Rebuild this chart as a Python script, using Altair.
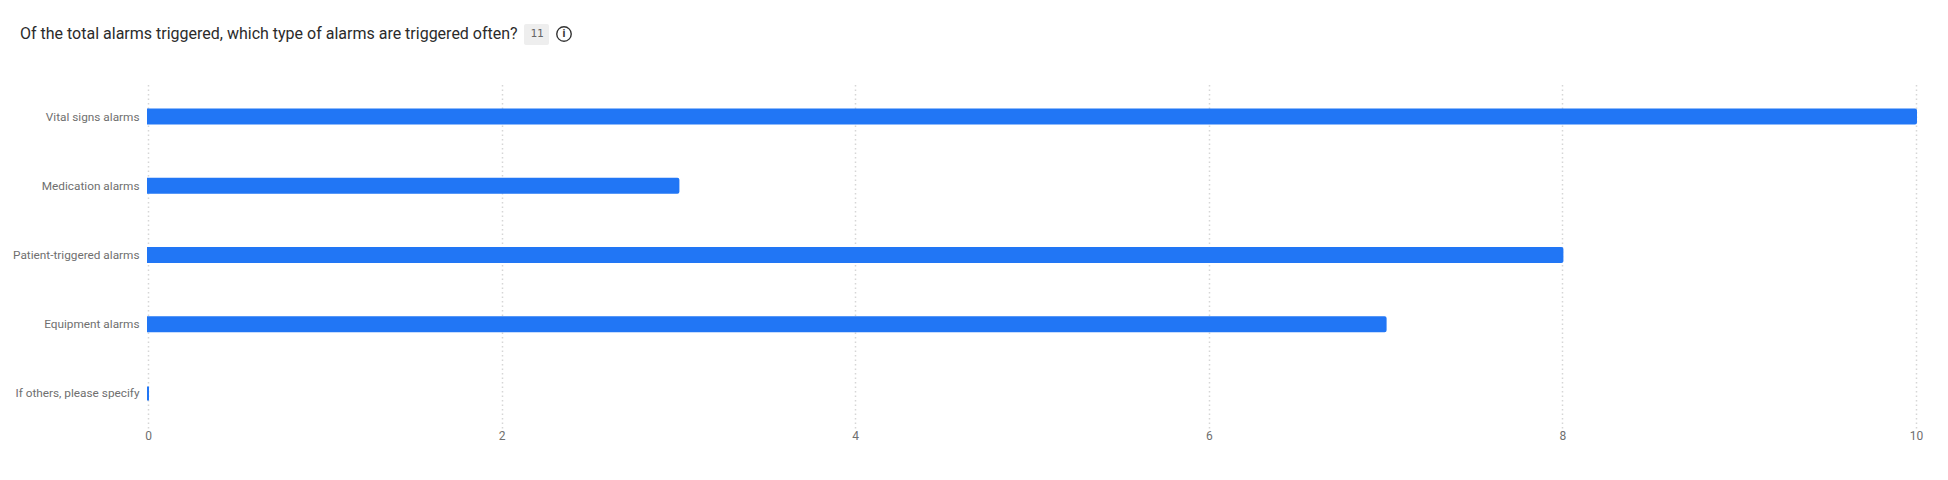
import altair as alt
import pandas as pd

categories = ["Vital signs alarms", "Medication alarms", "Patient-triggered alarms", "Equipment alarms", "If others, please specify"]
values = [10, 3, 8, 7, 0]
x_ticks = [0, 2, 4, 6, 8, 10]
title_text = "Of the total alarms triggered, which type of alarms are triggered often?"
badge_text = "11"

df = pd.DataFrame({"category": categories, "value": values})
FONT = "Roboto"

bars = alt.Chart(df).mark_bar(
    color="#2176f5", stroke="#2176f5", strokeWidth=2, height=14,
    cornerRadiusTopRight=1, cornerRadiusBottomRight=1
).encode(
    x=alt.X("value:Q", scale=alt.Scale(domain=[0, 10], nice=False),
            axis=alt.Axis(values=x_ticks, title=None, domain=False, ticks=False, grid=True,
                          gridColor="#d6d6d6", gridDash=[1.5, 3], gridWidth=1.5,
                          labelColor="#6f6f6f", labelFont=FONT, labelFontSize=12, labelPadding=2,
                          labelFlush=False, format="d")),
    y=alt.Y("category:N", sort=categories,
            axis=alt.Axis(title=None, domain=False, ticks=False, grid=False,
                          labelColor="#6f6f6f", labelFont=FONT, labelFontSize=11.8, labelPadding=9,
                          labelLimit=200)),
)

title = alt.Chart(df.head(1)).mark_text(
    text=title_text, align="left", baseline="middle", font=FONT, fontSize=16, color="#2b2b2b"
).encode(x=alt.value(-128), y=alt.value(-48))

badge_bg = alt.Chart(df.head(1)).mark_rect(color="#eeeeee", cornerRadius=2).encode(
    x=alt.value(376), x2=alt.value(401), y=alt.value(-58), y2=alt.value(-37))
badge = alt.Chart(df.head(1)).mark_text(
    text=badge_text, align="center", baseline="middle", font="DejaVu Sans Mono", fontSize=11, color="#666666"
).encode(x=alt.value(389), y=alt.value(-48))
icon = alt.Chart(df.head(1)).mark_point(
    shape="circle", size=210, filled=False, color="#333333", strokeWidth=1.4, opacity=1
).encode(x=alt.value(416), y=alt.value(-48))
icon_i = alt.Chart(df.head(1)).mark_text(
    text="i", align="center", baseline="middle", font=FONT, fontSize=11, fontWeight="bold", color="#333333"
).encode(x=alt.value(416), y=alt.value(-48))

chart = alt.layer(bars, title, badge_bg, badge, icon, icon_i).properties(
    width=1768, height=346,
    padding={"left": 140, "top": 74, "right": 24, "bottom": 44},
    autosize=alt.AutoSizeParams(type="none"),
).configure_view(stroke=None)

chart.save("out.html", embed_options={"renderer": "svg", "actions": False})
